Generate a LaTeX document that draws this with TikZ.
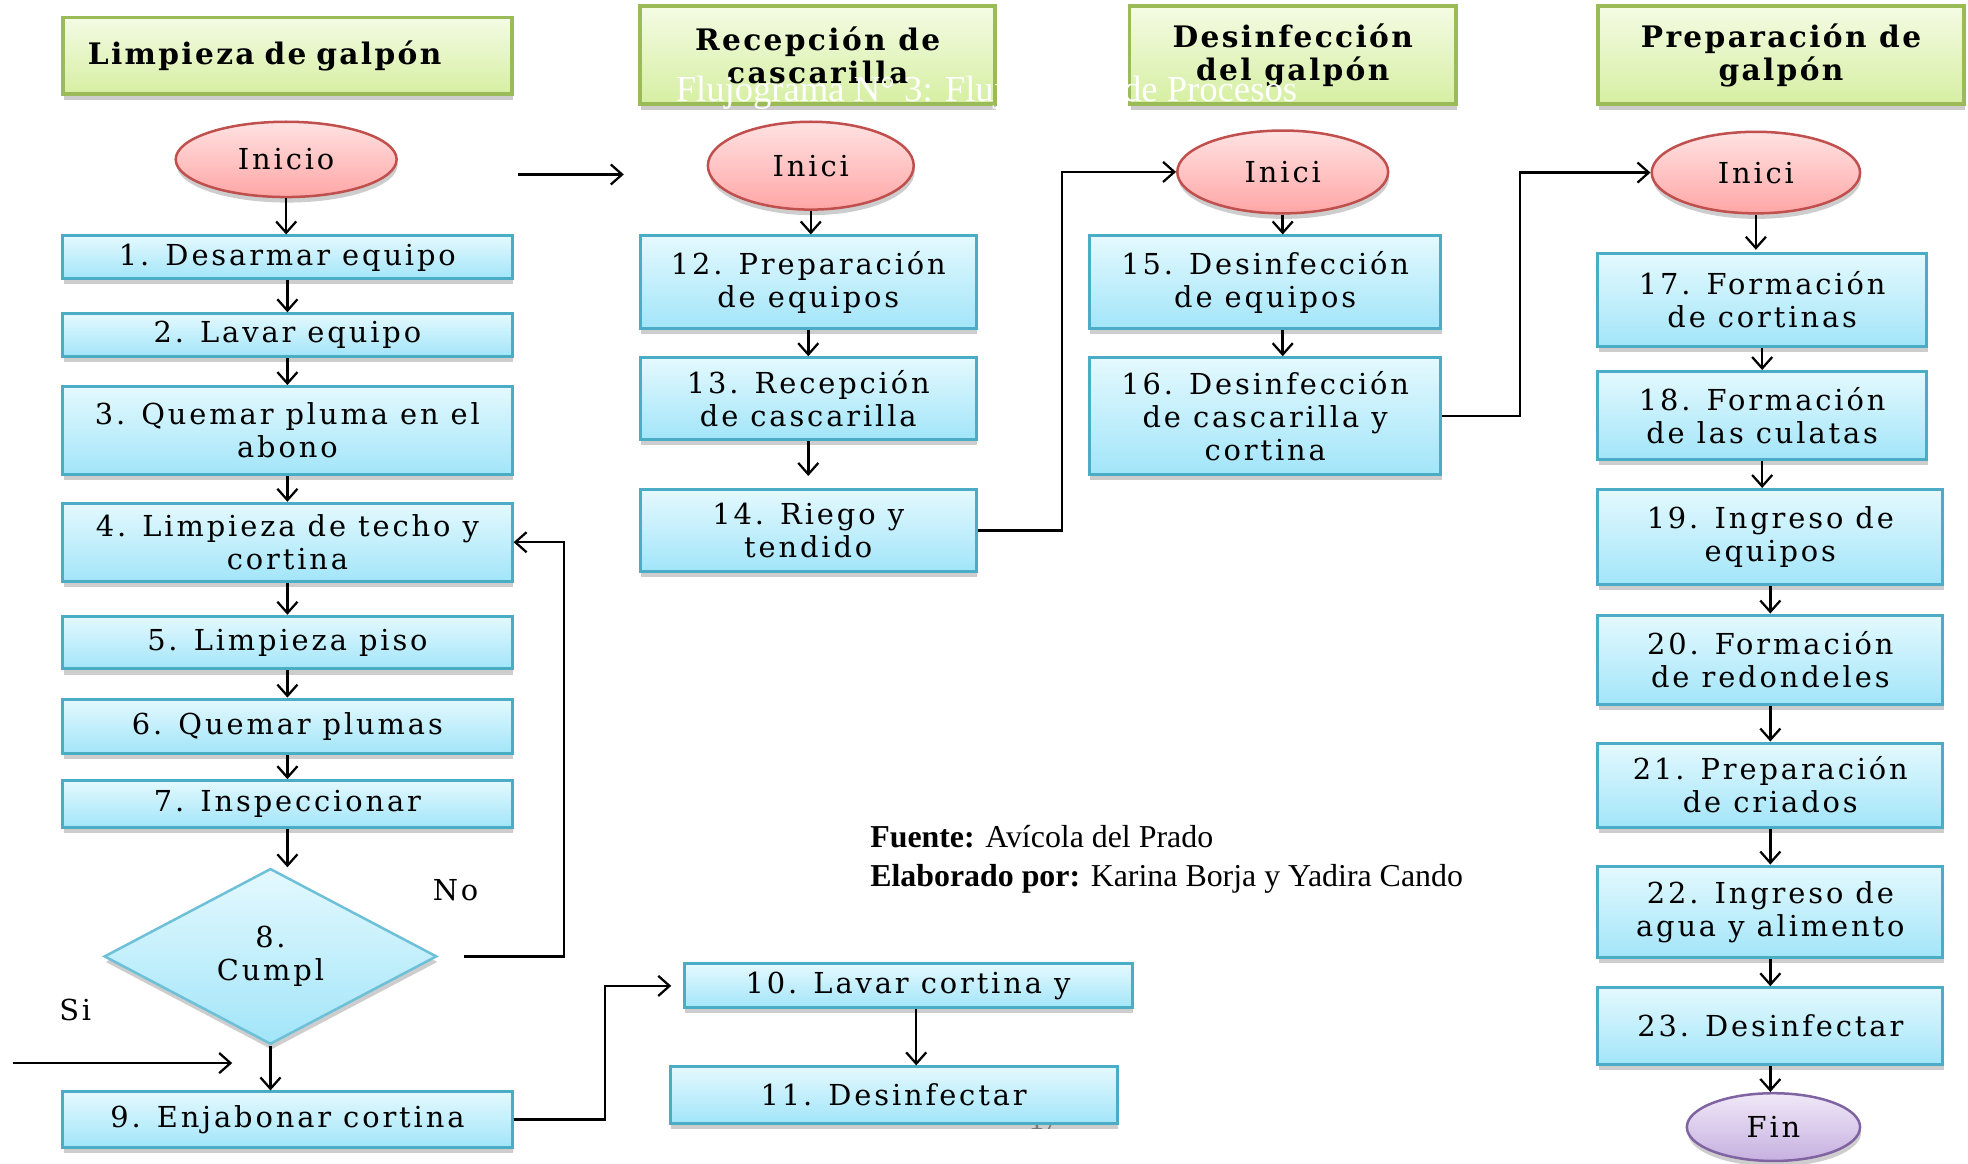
\documentclass[tikz,border=0pt]{standalone}
\usepackage{fontspec}
\setmainfont{DejaVu Serif}
\newfontfamily\boxfont[LetterSpace=10]{DejaVu Serif}
\newfontfamily\headfont[LetterSpace=8]{DejaVu Serif}
\newfontfamily\timesfont{Liberation Serif}
\usetikzlibrary{shapes.geometric,arrows.meta,shadows}
\definecolor{boxtop}{HTML}{E4F9FE}
\definecolor{boxbot}{HTML}{A2E5F9}
\definecolor{boxline}{HTML}{4BACC6}
\definecolor{dialine}{HTML}{6DC0D8}
\definecolor{headtop}{HTML}{F4FBE4}
\definecolor{headbot}{HTML}{D6EFA2}
\definecolor{headline}{HTML}{9BBB59}
\definecolor{ovtop}{HTML}{FFE2E2}
\definecolor{ovbot}{HTML}{FFA6A6}
\definecolor{ovline}{HTML}{C0504D}
\definecolor{fintop}{HTML}{F0E8F8}
\definecolor{finbot}{HTML}{C6B0E0}
\definecolor{finline}{HTML}{8064A2}
\tikzset{
  shad/.style={drop shadow={shadow xshift=0.4pt, shadow yshift=-2.2pt, opacity=0.28, fill=black!70}},
  box/.style={draw=boxline, line width=1.2pt, top color=boxtop, bottom color=boxbot, shad,
    rectangle, inner sep=0pt, align=center, font=\boxfont\fontsize{11.5}{13.2}\selectfont},
  head/.style={draw=headline, line width=1.5pt, top color=headtop, bottom color=headbot, shad,
    rectangle, inner sep=0pt, align=center, font=\headfont\bfseries\fontsize{11.8}{13.2}\selectfont},
  oval/.style={draw=ovline, line width=1pt, top color=ovtop, bottom color=ovbot, shad,
    ellipse, inner sep=0pt, font=\boxfont\fontsize{11.5}{13}\selectfont},
  finoval/.style={draw=finline, line width=1pt, top color=fintop, bottom color=finbot, shad,
    ellipse, inner sep=0pt, font=\boxfont\fontsize{11.5}{13}\selectfont},
  dia/.style={draw=dialine, line width=1pt, top color=boxtop, bottom color=boxbot, shad,
    diamond, inner sep=0pt, align=center, font=\boxfont\fontsize{11.5}{13.2}\selectfont},
  conn/.style={line width=1pt, -{Straight Barb[length=4.5pt,width=8pt,line width=0.9pt]}},
  lbl/.style={font=\boxfont\fontsize{11.5}{13}\selectfont, inner sep=0pt},
}
\newcommand\nb[8][]{%
  \pgfmathsetmacro\cx{(#4+#6)/2}\pgfmathsetmacro\cy{(#5+#7)/2}%
  \pgfmathsetmacro\ww{(#6-#4)/2}\pgfmathsetmacro\hh{(#7-#5)/2}%
  \node[#2, minimum width=\ww pt, minimum height=\hh pt, #1] (#3) at (\cx,\cy) {#8};}
\begin{document}
\begin{tikzpicture}[x=0.5pt,y=-0.5pt]
\useasboundingbox (0,0) rectangle (1568,927.4);
% headers
\nb[align=left, text width=159pt]{head}{h1}{50}{14}{408}{75}{Limpieza de galpón}
\nb{head}{h2}{510}{5}{793}{83}{Recepción de\\cascarilla}
\nb{head}{h3}{900}{5}{1160}{83}{Desinfección\\del galpón}
\nb{head}{h4}{1273}{5}{1565}{83}{Preparación de\\galpón}
% white title overlay
\node[anchor=base west, inner sep=0pt, text=white, font=\timesfont\fontsize{14.6}{16}\selectfont] (ttl) at (538,81) {Flujograma N° 3: Flujograma de Procesos};
% column 1
\nb{oval}{i1}{140}{97}{316}{157}{Inicio}
\nb{box}{b1}{50}{188}{408}{222}{1. Desarmar equipo}
\nb{box}{b2}{50}{250}{408}{284}{2. Lavar equipo}
\nb{box}{b3}{50}{308}{408}{378}{3. Quemar pluma en el\\abono}
\nb{box}{b4}{50}{401}{408}{463}{4. Limpieza de techo y\\cortina}
\nb{box}{b5}{50}{491}{408}{533}{5. Limpieza piso}
\nb{box}{b6}{50}{557}{408}{600}{6. Quemar plumas}
\nb{box}{b7}{50}{622}{408}{659}{7. Inspeccionar}
\nb{dia}{d8}{83}{692}{348}{832}{8.\\Cumpl}
\nb{box}{b9}{50}{870}{408}{914}{9. Enjabonar cortina}
\node[lbl] (no) at (363,709) {No};
\node[lbl] (si) at (60,805) {Si};
% page number partly behind box 11
\node[text=black!45, inner sep=0pt, font=\timesfont\fontsize{12}{14}\selectfont] (pg) at (832,892) {17};
\nb{box}{b10}{545}{768}{902}{803}{10. Lavar cortina y}
\nb{box}{b11}{534}{850}{890}{895}{11. Desinfectar}
% column 2
\nb{oval}{i2}{564}{97}{728}{167}{Inici}
\nb{box}{b12}{510}{188}{778}{262}{12. Preparación\\de equipos}
\nb{box}{b13}{510}{285}{778}{350}{13. Recepción\\de cascarilla}
\nb{box}{b14}{510}{390}{778}{455}{14. Riego y\\tendido}
% column 3
\nb{oval}{i3}{938}{104}{1106}{170}{Inici}
\nb{box}{b15}{868}{188}{1148}{262}{15. Desinfección\\de equipos}
\nb{box}{b16}{868}{285}{1148}{378}{16. Desinfección\\de cascarilla y\\cortina}
% column 4
\nb{oval}{i4}{1316}{105}{1482}{170}{Inici}
\nb{box}{b17}{1273}{202}{1535}{276}{17. Formación\\de cortinas}
\nb{box}{b18}{1273}{296}{1535}{366}{18. Formación\\de las culatas}
\nb{box}{b19}{1273}{390}{1548}{466}{19. Ingreso de\\equipos}
\nb{box}{b20}{1273}{490}{1548}{561}{20. Formación\\de redondeles}
\nb{box}{b21}{1273}{592}{1548}{659}{21. Preparación\\de criados}
\nb{box}{b22}{1273}{690}{1548}{763}{22. Ingreso de\\agua y alimento}
\nb{box}{b23}{1273}{787}{1548}{848}{23. Desinfectar}
\nb{finoval}{fin}{1344}{871}{1482}{925}{Fin}
% source text
\node[anchor=base west, inner sep=0pt, font=\timesfont\fontsize{12.7}{15}\selectfont] (src) at (693,675) {\textbf{Fuente:} Avícola del Prado};
\node[anchor=base west, inner sep=0pt, font=\timesfont\fontsize{12.7}{15}\selectfont] (auth) at (693,706) {\textbf{Elaborado por:} Karina Borja y Yadira Cando};
% free arrows
\coordinate (ta) at (413,139);
\coordinate (tb) at (497,139);
\draw[conn] (ta) -- (tb);
\coordinate (sa) at (10,847);
\coordinate (sb) at (185,847);
\draw[conn] (sa) -- (sb);
% column 1 connectors
\draw[conn] (i1.south) -- (i1.south |- b1.north);
\foreach \u/\v in {b1/b2,b2/b3,b3/b4,b4/b5,b5/b6,b6/b7}{
  \draw[conn] (\u.south) -- (\u.south |- \v.north);
}
\draw[conn] (b7.south) -- (b7.south |- d8.north);
\draw[conn] (d8.south) -- (d8.south |- b9.north);
\coordinate (nos) at (370,762);
\draw[conn] (nos) -| ([xshift=20pt]b4.east) -- (b4.east);
\draw[conn] (b9.east) -- ++(73,0) |- ([xshift=-4.5pt]b10.west);
\draw[conn] ([xshift=3.25pt]b10.south) -- ([xshift=3.25pt]b10.south |- b11.north);
% column 2 connectors
\draw[conn] (i2.south) -- (i2.south |- b12.north);
\draw[conn] (b12.south) -- (b12.south |- b13.north);
\draw[conn] (b13.south) -- ++(0,28);
\draw[conn] (b14.east) -- ++(67,0) |- (i3.west);
% column 3 connectors
\draw[conn] (i3.south) -- (i3.south |- b15.north);
\draw[conn] (i3.south |- b15.south) -- (i3.south |- b16.north);
\draw[conn] (b16.east) -- ++(62,0) |- (i4.west);
% column 4 connectors
\draw[conn] (i4.south) -- ++(0,28);
\foreach \u/\v in {b17/b18,b18/b19,b19/b20,b20/b21,b21/b22,b22/b23}{
  \draw[conn] (\u.south) -- (\u.south |- \v.north);
}
\draw[conn] (b23.south) -- (b23.south |- fin.north);
\end{tikzpicture}
\end{document}
